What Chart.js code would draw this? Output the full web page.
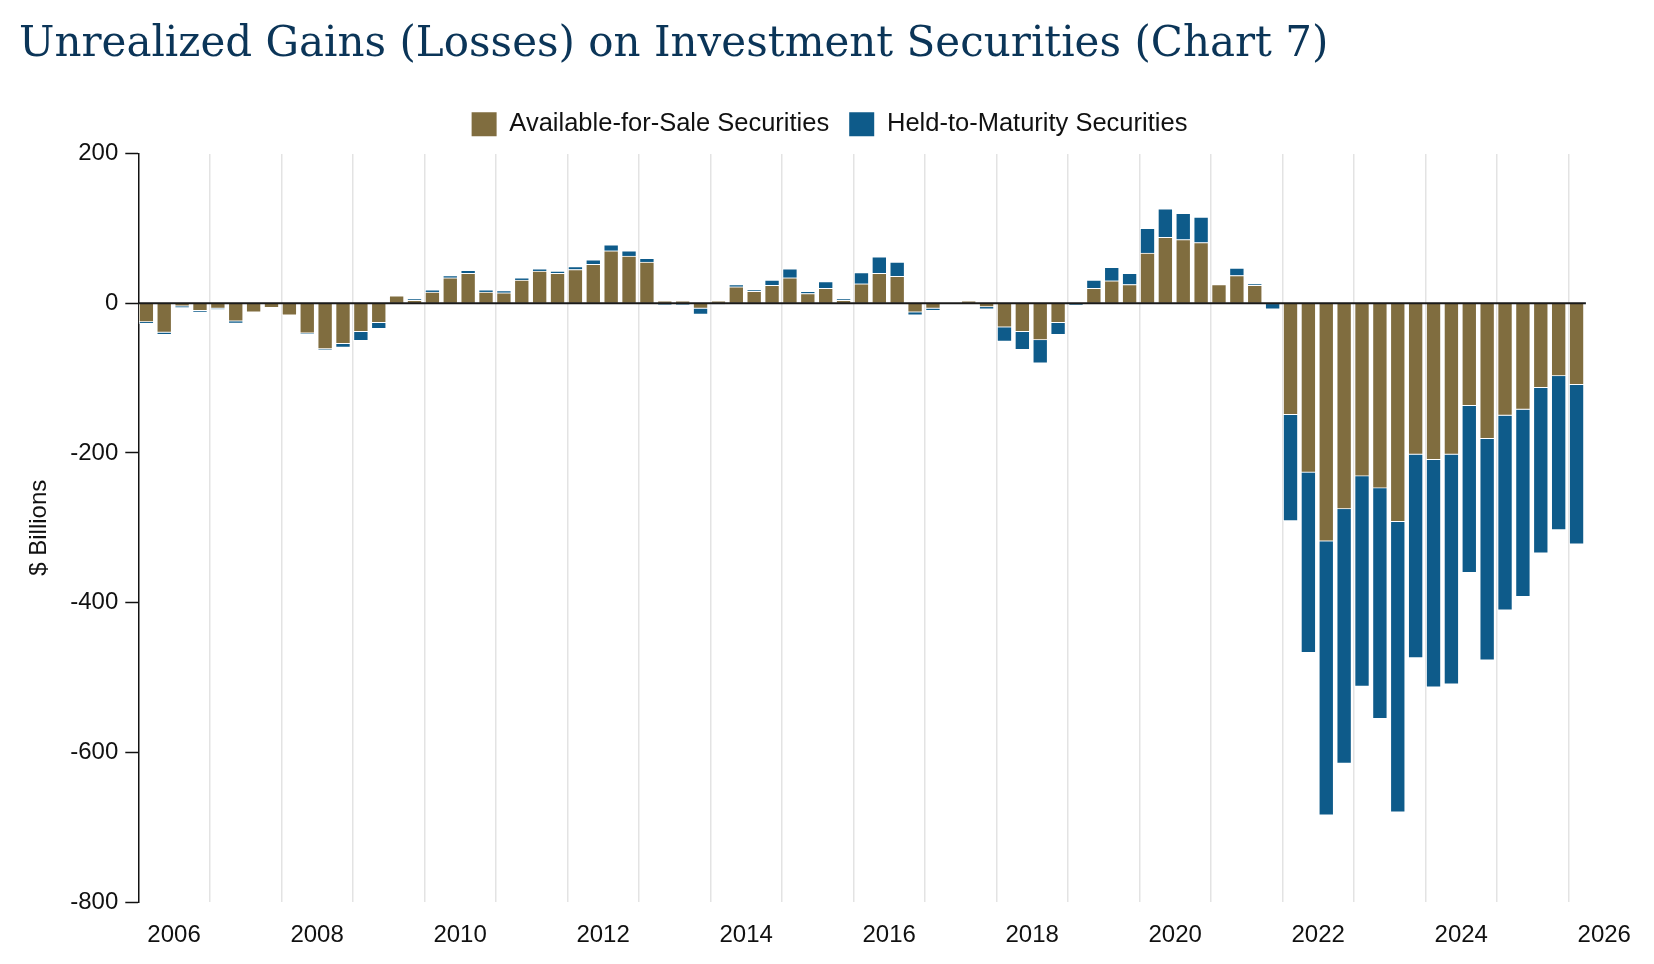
<!DOCTYPE html>
<html>
<head>
<meta charset="utf-8">
<title>Unrealized Gains (Losses) on Investment Securities (Chart 7)</title>
<script src="https://cdn.jsdelivr.net/npm/chart.js@4.4.1/dist/chart.umd.min.js"></script>
<style>
  html, body { margin: 0; padding: 0; background: #ffffff; }
  canvas { display: block; }
</style>
</head>
<body>
<canvas id="chart" width="1654" height="964"></canvas>
<script>
// ---- Data, $ billions, 2006Q1 .. 2026Q1 ----
const quarters = [];
for (let yr = 2006; yr <= 2026; yr++) {
  for (let q = 1; q <= 4; q++) {
    if (yr === 2026 && q > 1) break;
    quarters.push(yr + 'Q' + q);
  }
}

const afsValues = [
  -25, -39, -4, -10,      // 2006
  -7, -24, -12, -6,       // 2007
  -16, -40, -61, -54,     // 2008
  -38, -26, 10, 4,        // 2009
  15, 34, 40, 15,         // 2010
  14, 31, 43, 40,         // 2011
  45, 52, 70, 63,         // 2012
  55, 3, 3, -7,           // 2013
  3, 22, 16, 24,          // 2014
  34, 13, 20, 4,          // 2015
  26, 40, 36, -12,        // 2016
  -7, 0, 3, -5,           // 2017
  -32, -38, -49, -26,     // 2018
  -1, 20, 30, 25,         // 2019
  67, 88, 85, 81,         // 2020
  25, 37, 24, -1,         // 2021
  -149, -226, -318, -275, // 2022
  -231, -247, -292, -202, // 2023
  -209, -202, -137, -181, // 2024
  -150, -142, -113, -97,  // 2025
  -109                    // 2026
];

const htmValues = [
  -2, -3, -2, -2,         // 2006
  -1, -3, 0, 0,           // 2007
  0, -1, -1, -5,          // 2008
  -12, -8, 0, 2,          // 2009
  3, 3, 4, 3,             // 2010
  3, 3, 3, 3,             // 2011
  4, 6, 8, 7,             // 2012
  5, -2, -2, -8,          // 2013
  -1, 3, 2, 7,            // 2014
  12, 3, 9, 2,            // 2015
  15, 22, 19, -4,         // 2016
  -3, 0, 0, -3,           // 2017
  -19, -24, -31, -16,     // 2018
  -1, 11, 18, 15,         // 2019
  33, 38, 35, 34,         // 2020
  0, 10, 2, -7,           // 2021
  -142, -241, -366, -340, // 2022
  -281, -308, -388, -272, // 2023
  -304, -307, -223, -296, // 2024
  -260, -250, -221, -206, // 2025
  -213                    // 2026
];

const xTickLabels = ['2006', '2008', '2010', '2012', '2014', '2016', '2018', '2020', '2022', '2024', '2026'];
const gridYears = [2007, 2008, 2009, 2010, 2011, 2012, 2013, 2014, 2015, 2016,
                   2017, 2018, 2019, 2020, 2021, 2022, 2023, 2024, 2025, 2026];
const yTicks = { min: -800, max: 200, step: 200 };

const seriesNames = ['Available-for-Sale Securities', 'Held-to-Maturity Securities'];
const seriesColors = ['#806d3f', '#0e5b8a'];

// ---- Build chart data ----
const BAR_OFFSET = 0.1126; // bar centre inside its quarter slot (years)
function quarterPos(label) {
  const yr = Number(label.slice(0, 4));
  const q = Number(label.slice(5));
  return yr + (q - 1) / 4 + BAR_OFFSET;
}
const toPoints = (vals) => vals.map((v, i) => ({ x: quarterPos(quarters[i]), y: v }));

Chart.defaults.font.family = "'Liberation Sans', Arial, Helvetica, sans-serif";
Chart.defaults.color = '#111111';

const zeroLine = {
  id: 'zeroLine',
  afterDatasetsDraw(chart) {
    const { ctx, chartArea, scales } = chart;
    const y = scales.y.getPixelForValue(0);
    const meta = chart.getDatasetMeta(0);
    const last = meta.data[meta.data.length - 1].getProps(['x', 'width'], true);
    const xEnd = last.x + last.width / 2 + 2;
    ctx.save();
    ctx.strokeStyle = '#1a1a1a';
    ctx.lineWidth = 2;
    ctx.beginPath();
    ctx.moveTo(chartArea.left, y);
    ctx.lineTo(xEnd, y);
    ctx.stroke();
    ctx.restore();
  }
};

new Chart(document.getElementById('chart'), {
  type: 'bar',
  data: {
    datasets: [
      {
        label: seriesNames[0],
        data: toPoints(afsValues),
        backgroundColor: seriesColors[0],
        borderColor: '#ffffff',
        borderWidth: 1,
        barThickness: 14.7,
        stack: 's'
      },
      {
        label: seriesNames[1],
        data: toPoints(htmValues),
        backgroundColor: seriesColors[1],
        borderColor: '#ffffff',
        borderWidth: 1,
        barThickness: 14.7,
        stack: 's'
      }
    ]
  },
  options: {
    responsive: false,
    devicePixelRatio: 1,
    animation: false,
    layout: { padding: { left: 19, right: 14, top: 0, bottom: 0 } },
    plugins: {
      title: {
        display: true,
        text: 'Unrealized Gains (Losses) on Investment Securities (Chart 7)',
        align: 'start',
        color: '#0b3558',
        font: { family: "'DejaVu Serif', 'Liberation Serif', serif", size: 42, weight: 'normal' },
        padding: { top: 20.3, bottom: 20.8 }
      },
      legend: {
        display: true,
        position: 'top',
        align: 'center',
        labels: {
          boxWidth: 25,
          boxHeight: 24,
          padding: 20,
          color: '#111111',
          font: { size: 25.5 },
          generateLabels: (chart) =>
            Chart.defaults.plugins.legend.labels.generateLabels(chart).map(l => ({
              ...l, lineWidth: 0, strokeStyle: l.fillStyle
            }))
        }
      },
      tooltip: { enabled: false }
    },
    scales: {
      x: {
        type: 'linear',
        position: 'bottom',
        stacked: true,
        min: 2006,
        max: 2027,
        offset: false,
        grid: { display: false, offset: false, drawTicks: false },
        border: { display: false },
        afterBuildTicks: (s) => { s.ticks = xTickLabels.map(l => ({ value: Number(l) + 0.5 })); },
        ticks: {
          autoSkip: false,
          maxRotation: 0,
          padding: 19,
          color: '#111111',
          font: { size: 24 },
          callback: (v, i) => xTickLabels[i]
        },
        afterFit: (s) => { s.height = 62; }
      },
      xg: {
        type: 'linear',
        position: 'top',
        min: 2006,
        max: 2027,
        offset: false,
        grid: { color: '#e3e3e3', lineWidth: 1.5, drawTicks: false, offset: false },
        border: { display: false },
        ticks: { display: false },
        afterBuildTicks: (s) => { s.ticks = gridYears.map(v => ({ value: v })); },
        afterFit: (s) => { s.height = 6.5; }
      },
      y: {
        stacked: true,
        min: yTicks.min,
        max: yTicks.max,
        ticks: { stepSize: yTicks.step, padding: 7, color: '#111111', font: { size: 24 } },
        grid: { drawOnChartArea: false, drawTicks: true, tickLength: 13, tickColor: '#111111', tickWidth: 1.5 },
        border: { display: true, color: '#111111', width: 1.5 },
        title: {
          display: true,
          text: '$ Billions',
          color: '#111111',
          font: { size: 24 },
          padding: { top: 5.6, bottom: 0 }
        },
        afterFit: (s) => { s.width = 119.3; }
      }
    }
  },
  plugins: [zeroLine]
});
</script>
</body>
</html>
